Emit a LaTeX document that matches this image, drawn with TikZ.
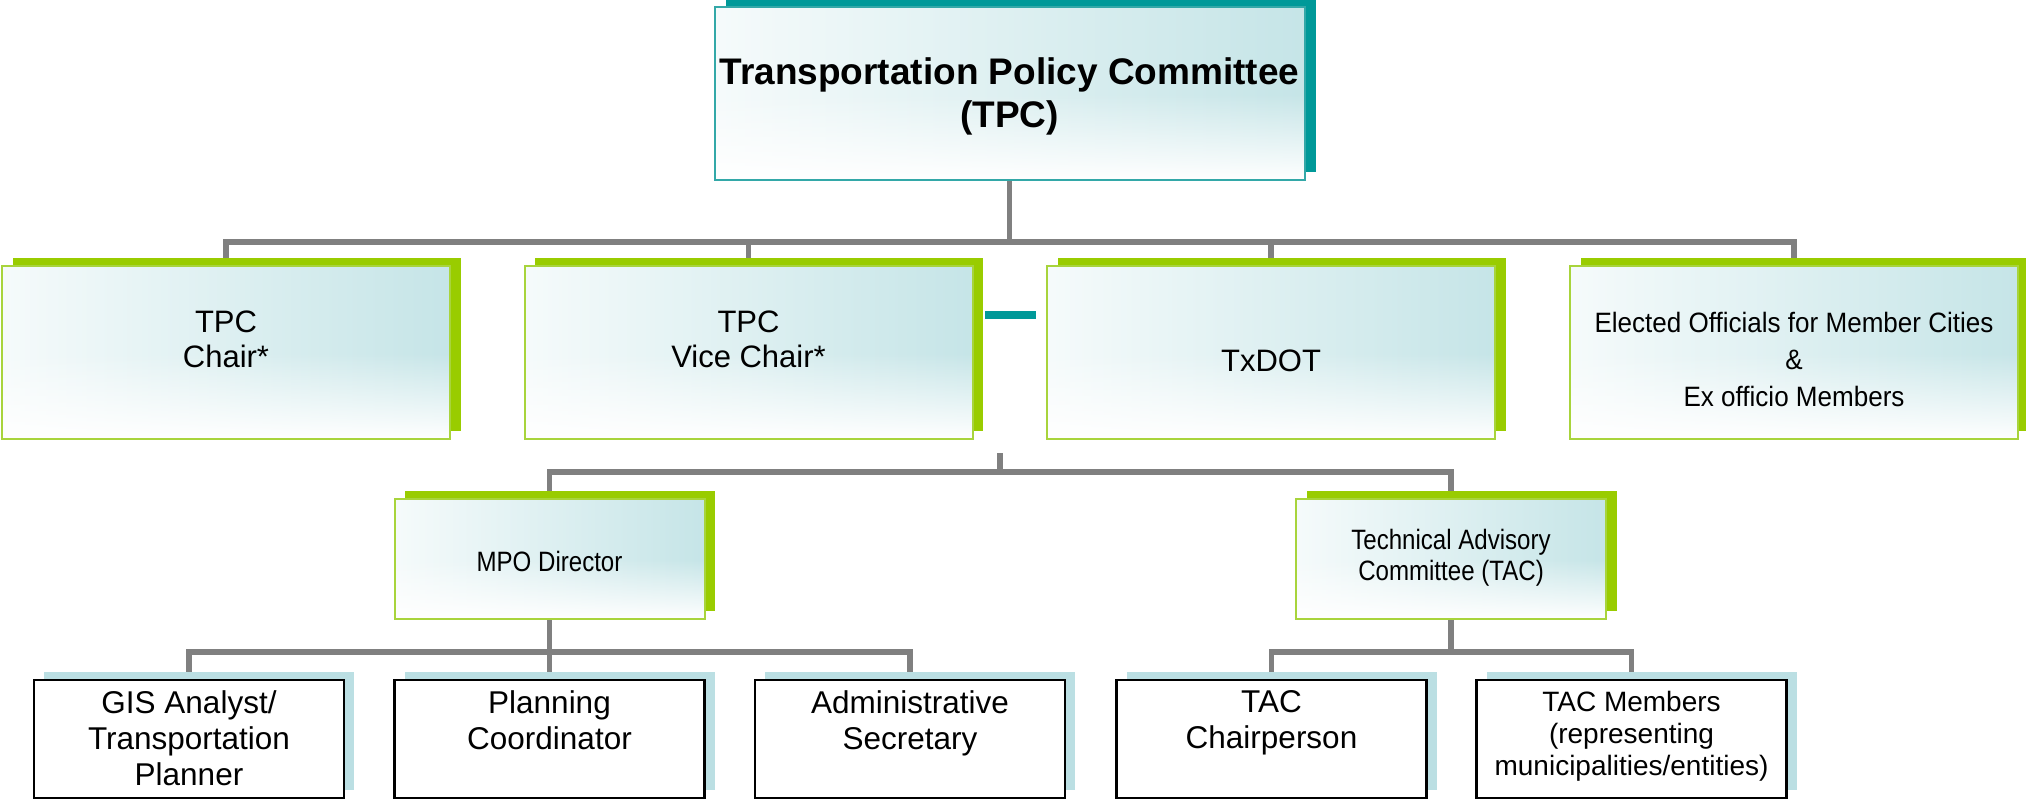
\documentclass[tikz,border=0pt]{standalone}
\usepackage{fontspec}
\setmainfont{Liberation Sans}
\newfontfamily\condensed[FakeStretch=0.86]{Liberation Sans}
\newfontfamily\semicondensed[FakeStretch=0.93]{Liberation Sans}
\usetikzlibrary{fadings}

\definecolor{tealdark}{HTML}{009999}
\definecolor{tealedge}{HTML}{33A8A8}
\definecolor{limeshadow}{HTML}{99CC00}
\definecolor{limeedge}{HTML}{A8D43C}
\definecolor{mist}{HTML}{B9DFE2}
\definecolor{leafshadow}{HTML}{BBDFE3}
\definecolor{wire}{HTML}{808080}

% soft fill: white on the left, pale teal on the right
\pgfdeclarehorizontalshading{cardshade}{100bp}{color(0bp)=(white); color(15bp)=(white); color(88bp)=(mist); color(100bp)=(mist)}
% white wash over the lower half of each card
\tikzfading[name=lowerfade, top color=transparent!100, bottom color=transparent!0, middle color=transparent!100]

\pgfdeclarelayer{wires}
\pgfdeclarelayer{shadows}
\pgfsetlayers{wires,shadows,main}

\tikzset{
  card/.style={rectangle, inner sep=0pt, outer sep=0pt, shading=cardshade, shade,
    draw=limeedge, line width=2pt,
    path picture={\fill[white, path fading=lowerfade]
      (path picture bounding box.south west) rectangle (path picture bounding box.north east);}},
  wide card/.style={card, minimum width=448pt, minimum height=173pt},
  small card/.style={card, minimum width=310pt, minimum height=120pt},
  head card/.style={card, draw=tealedge, minimum width=590pt, minimum height=173pt},
  leaf/.style={rectangle, inner sep=0pt, outer sep=0pt, fill=white, draw=black,
    line width=2.5pt, minimum width=310pt, minimum height=118pt},
  conn/.style={draw=wire, line width=5.5pt},
  lbl/.style={inner sep=0pt, align=center, anchor=north},
  lblbase/.style={inner sep=0pt, anchor=base},
}

\begin{document}
\begin{tikzpicture}[x=1pt, y=-1pt]
\useasboundingbox (0,0) rectangle (2026,800);

% boxes
\node[head card] (tpc) at (1009.5,93.5) {};
\node[wide card] (chair) at (226,352.5) {};
\node[wide card] (vice) at (748.5,352.5) {};
\node[wide card] (txdot) at (1271,352.5) {};
\node[wide card] (elected) at (1794,352.5) {};
\node[small card] (mpo) at (549.5,559) {};
\node[small card] (tac) at (1451,559) {};
\node[leaf] (gis) at (189,739) {};
\node[leaf] (plan) at (549.5,739) {};
\node[leaf] (admin) at (910,739) {};
\node[leaf] (tacchair) at (1271.5,739) {};
\node[leaf] (tacmem) at (1631.5,739) {};

% offset shadows behind the boxes
\begin{pgfonlayer}{shadows}
  \fill[tealdark] ([shift={(11.5,-8)}]tpc.south west) rectangle ([shift={(11.5,-8)}]tpc.north east);
  \foreach \b in {chair,vice,txdot,elected,mpo,tac}
    \fill[limeshadow] ([shift={(10.5,-8)}]\b.south west) rectangle ([shift={(10.5,-8)}]\b.north east);
  \foreach \b in {gis,plan,admin,tacchair,tacmem}
    \fill[leafshadow] ([shift={(10,-8)}]\b.south west) rectangle ([shift={(10,-8)}]\b.north east);
\end{pgfonlayer}

% connectors
\begin{pgfonlayer}{wires}
  \coordinate (busTop) at (1009.5,242);
  \draw[conn] (tpc.south) -- (busTop);
  \draw[conn] (chair.north) |- (busTop) -| (elected.north);
  \draw[conn] (vice.north) -- (vice.north |- busTop);
  \draw[conn] (txdot.north) -- (txdot.north |- busTop);
  \coordinate (stubTop) at (1000,453);
  \coordinate (busMid) at (1000,472);
  \draw[conn] (stubTop) -- (busMid);
  \draw[conn] (mpo.north) |- (busMid) -| (tac.north);
  \coordinate (busMpo) at (549.5,652);
  \draw[conn] (mpo.south) -- (busMpo);
  \draw[conn] (gis.north) |- (busMpo) -| (admin.north);
  \draw[conn] (plan.north) -- (busMpo);
  \coordinate (busTac) at (1451,652);
  \draw[conn] (tac.south) -- (busTac);
  \draw[conn] (tacchair.north) |- (busTac) -| (tacmem.north);
\end{pgfonlayer}

% short teal bar between the vice chair and TxDOT boxes
\coordinate (dashA) at (985,315);
\coordinate (dashB) at (1036,315);
\draw[tealdark, line width=8pt] (dashA) -- (dashB);

% labels
\node[lbl, font=\bfseries\fontsize{37}{43}\selectfont] (tpcText) at (1009.5,57)
  {Transportation Policy Committee\\(TPC)};
\node[lbl, font=\fontsize{31}{34.5}\selectfont] (chairText) at (226,311) {TPC\\Chair*};
\node[lbl, font=\fontsize{31}{34.5}\selectfont] (viceText) at (748.5,311) {TPC\\Vice Chair*};
\node[lblbase, font=\fontsize{31}{36}\selectfont] (txdotText) at (1271,371) {TxDOT};
\node[lbl, font=\semicondensed\fontsize{28}{37}\selectfont] (electedText) at (1794,312)
  {Elected Officials for Member Cities\\\&\\Ex officio Members};
\node[lblbase, font=\condensed\fontsize{28}{30}\selectfont] (mpoText) at (549.5,571.5) {MPO Director};
\node[lbl, font=\condensed\fontsize{28}{31}\selectfont] (tacText) at (1451,529)
  {Technical Advisory\\Committee (TAC)};
\node[lbl, font=\fontsize{31.5}{36}\selectfont] (gisText) at (189,690)
  {GIS Analyst/\\Transportation\\Planner};
\node[lbl, font=\fontsize{31.5}{36}\selectfont] (planText) at (549.5,690)
  {Planning\\Coordinator};
\node[lbl, font=\fontsize{31.5}{36}\selectfont] (adminText) at (910,690)
  {Administrative\\Secretary};
\node[lbl, font=\fontsize{31.5}{36}\selectfont] (tacchairText) at (1271.5,690)
  {TAC\\Chairperson};
\node[lbl, font=\fontsize{28}{32}\selectfont] (tacmemText) at (1631.5,691)
  {TAC Members\\(representing\\municipalities/entities)};
\end{tikzpicture}
\end{document}
